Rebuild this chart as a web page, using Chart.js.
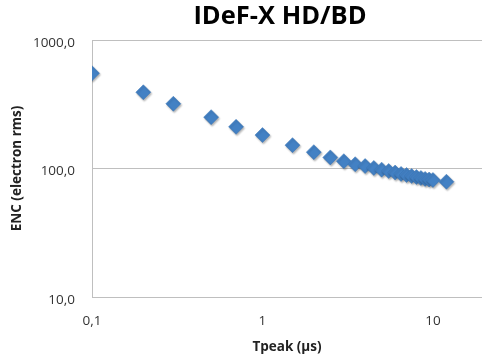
<!DOCTYPE html>
<html>
<head>
<meta charset="utf-8">
<script src="https://cdn.jsdelivr.net/npm/chart.js@4/dist/chart.umd.min.js"></script>
<style>
  html, body { margin: 0; padding: 0; background: #fff; overflow: hidden; }
  /* chart is 8px wider than the window: the marker overflow padding on the right falls outside */
  #wrap { width: 490px; height: 363px; position: relative; }
</style>
</head>
<body>
<div id="wrap"><canvas id="enc-chart"></canvas></div>
<script>
// peaking times (µs) and measured ENC (electron rms)
let tpeak = [0.1, 0.2, 0.3, 0.5, 0.7, 1, 1.5, 2, 2.5, 3, 3.5, 4, 4.5, 5, 5.5, 6, 6.5, 7, 7.5, 8, 8.5, 9, 9.5, 10, 12];
let enc = [551, 392, 319, 251, 211, 182, 152, 134, 122, 114, 108, 104.5, 101, 98, 95.6, 93, 90.8, 89, 87.4, 85.9, 84.4, 83, 82.1, 81.4, 78.9];
let xTicks = [0.1, 1, 10];
let yTicks = [10, 100, 1000];

let points = tpeak.map(function (t, i) { return {x: t, y: enc[i]}; });

let titlePlugin = {
    id: 'fixedTitle',
    afterDraw: function (chart) {
        let ctx = chart.ctx;
        ctx.save();
        ctx.font = 'bold 25.5px "Open Sans"';
        ctx.fillStyle = '#000';
        ctx.textAlign = 'center';
        ctx.textBaseline = 'middle';
        ctx.fillText('IDeF-X HD/BD', 280, 17);
        ctx.restore();
    }
};

let shadowPlugin = {
    id: 'markerShadow',
    beforeDatasetsDraw: function (chart) {
        let ctx = chart.ctx;
        ctx.save();
        ctx.shadowColor = 'rgba(0,0,0,0.3)';
        ctx.shadowBlur = 2;
        ctx.shadowOffsetX = 1;
        ctx.shadowOffsetY = 1.5;
    },
    afterDatasetsDraw: function (chart) {
        chart.ctx.restore();
    }
};

window.onload = function () {
    let ctx = document.getElementById('enc-chart').getContext('2d');
    new Chart(ctx, {
        type: 'scatter',
        data: {
            datasets: [{
                label: 'ENC',
                data: points,
                pointStyle: 'rectRot',
                pointRadius: 7.5,
                pointHoverRadius: 7.5,
                backgroundColor: '#4381c4',
                borderColor: '#3a74b4',
                borderWidth: 0.5
            }]
        },
        plugins: [titlePlugin, shadowPlugin],
        options: {
            responsive: true,
            maintainAspectRatio: false,
            animation: false,
            layout: { padding: { top: 40, right: 0, left: 0, bottom: 0 } },
            plugins: {
                legend: { display: false },
                title: { display: false },
                tooltip: { enabled: false }
            },
            scales: {
                x: {
                    type: 'logarithmic',
                    min: 0.1,
                    max: 19.4,
                    afterBuildTicks: function (scale) {
                        scale.ticks = xTicks.map(function (v) { return {value: v}; });
                    },
                    afterFit: function (scale) {
                        scale.height = 66;
                        scale.paddingLeft = 0;
                        scale.paddingRight = 0;
                    },
                    grid: { color: 'rgba(0,0,0,0)', drawTicks: false },
                    border: { color: '#bfbfbf', width: 1 },
                    ticks: {
                        padding: 16,
                        color: '#333',
                        font: { family: 'Open Sans', size: 13.5 },
                        maxRotation: 0,
                        autoSkip: false,
                        callback: function (v) { return String(v).replace('.', ','); }
                    },
                    title: {
                        display: true,
                        text: 'Tpeak (µs)',
                        color: '#222',
                        font: { family: 'Open Sans', size: 13.5, weight: 'bold' },
                        padding: { top: 0, bottom: 8 }
                    }
                },
                y: {
                    type: 'logarithmic',
                    min: 10,
                    max: 1000,
                    afterBuildTicks: function (scale) {
                        scale.ticks = yTicks.map(function (v) { return {value: v}; });
                    },
                    afterFit: function (scale) {
                        scale.width = 92;
                        scale.paddingTop = 0;
                        scale.paddingBottom = 0;
                    },
                    grid: { color: '#bfbfbf', lineWidth: 1, drawTicks: false },
                    border: { color: '#bfbfbf', width: 1 },
                    ticks: {
                        padding: 17,
                        labelOffset: 3,
                        color: '#333',
                        font: { family: 'Open Sans', size: 13.5 },
                        autoSkip: false,
                        callback: function (v) { return v.toFixed(1).replace('.', ','); }
                    },
                    title: {
                        display: true,
                        text: 'ENC (electron rms)',
                        color: '#222',
                        font: { family: 'Open Sans', size: 13.5, weight: 'bold' },
                        padding: { top: 9, bottom: 0 }
                    }
                }
            }
        }
    });
};
</script>
</body>
</html>
